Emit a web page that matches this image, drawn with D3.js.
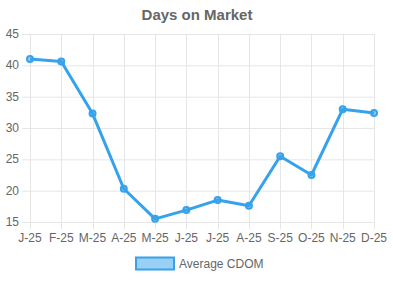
<!DOCTYPE html>
<html>
<head>
<meta charset="utf-8">
<script src="https://cdn.jsdelivr.net/npm/d3@7"></script>
<style>
  body { margin: 0; background: #fff; }
  svg { display: block; font-family: "Liberation Sans", Arial, Helvetica, sans-serif; }
</style>
</head>
<body>
<svg id="chart" width="393" height="295"></svg>
<script>
var months = ['J-25', 'F-25', 'M-25', 'A-25', 'M-25', 'J-25', 'J-25', 'A-25', 'S-25', 'O-25', 'N-25', 'D-25'];
var cdom = [41, 40.6, 32.3, 20.3, 15.5, 16.9, 18.5, 17.6, 25.5, 22.5, 33, 32.4];
var yTicks = [15, 20, 25, 30, 35, 40, 45];
var seriesName = 'Average CDOM';
var title = 'Days on Market';

var svg = d3.select('#chart');
var blue = 'rgb(54,162,235)';
var grid = '#e6e6e6';
var textCol = '#666';

var x = d3.scalePoint()
  .domain(d3.range(months.length))
  .range([30, 374]);
var y = d3.scaleLinear()
  .domain([15, 45])
  .range([222, 34]);

// title
svg.append('text')
  .attr('x', 197).attr('y', 20)
  .attr('text-anchor', 'middle')
  .style('font-size', '15px').style('font-weight', 'bold')
  .style('fill', textCol)
  .text(title);

// horizontal grid + y labels
svg.append('g').selectAll('line')
  .data(yTicks)
  .enter().append('line')
  .attr('x1', 22).attr('x2', 374)
  .attr('y1', function(d) { return y(d) + 0.5; })
  .attr('y2', function(d) { return y(d) + 0.5; })
  .style('stroke', grid);

svg.append('g').selectAll('text')
  .data(yTicks)
  .enter().append('text')
  .attr('x', 19)
  .attr('y', function(d) { return y(d) + 4; })
  .attr('text-anchor', 'end')
  .style('font-size', '12px').style('fill', textCol)
  .text(function(d) { return d; });

// vertical grid + x labels
svg.append('g').selectAll('line')
  .data(d3.range(months.length))
  .enter().append('line')
  .attr('x1', function(i) { return Math.round(x(i)) + 0.5; })
  .attr('x2', function(i) { return Math.round(x(i)) + 0.5; })
  .attr('y1', 34).attr('y2', 229)
  .style('stroke', grid);

svg.append('g').selectAll('text')
  .data(months)
  .enter().append('text')
  .attr('x', function(d, i) { return x(i); })
  .attr('y', 242)
  .attr('text-anchor', 'middle')
  .style('font-size', '12px').style('fill', textCol)
  .text(function(d) { return d; });

// line
var line = d3.line()
  .x(function(d, i) { return x(i); })
  .y(function(d) { return y(d); });

svg.append('path')
  .datum(cdom)
  .attr('d', line)
  .style('fill', 'none')
  .style('stroke', blue)
  .style('stroke-width', 3)
  .style('stroke-linejoin', 'round');

svg.append('g').selectAll('circle')
  .data(cdom)
  .enter().append('circle')
  .attr('cx', function(d, i) { return x(i); })
  .attr('cy', function(d) { return y(d); })
  .attr('r', 3)
  .style('fill', 'rgba(54,162,235,0.5)')
  .style('stroke', blue)
  .style('stroke-width', 2);

// legend
var lg = svg.append('g');
lg.append('rect')
  .attr('x', 136).attr('y', 257.5)
  .attr('width', 38).attr('height', 12)
  .style('fill', 'rgba(54,162,235,0.5)')
  .style('stroke', blue)
  .style('stroke-width', 2);
lg.append('text')
  .attr('x', 179).attr('y', 268)
  .style('font-size', '12px').style('fill', textCol)
  .text(seriesName);
</script>
</body>
</html>
